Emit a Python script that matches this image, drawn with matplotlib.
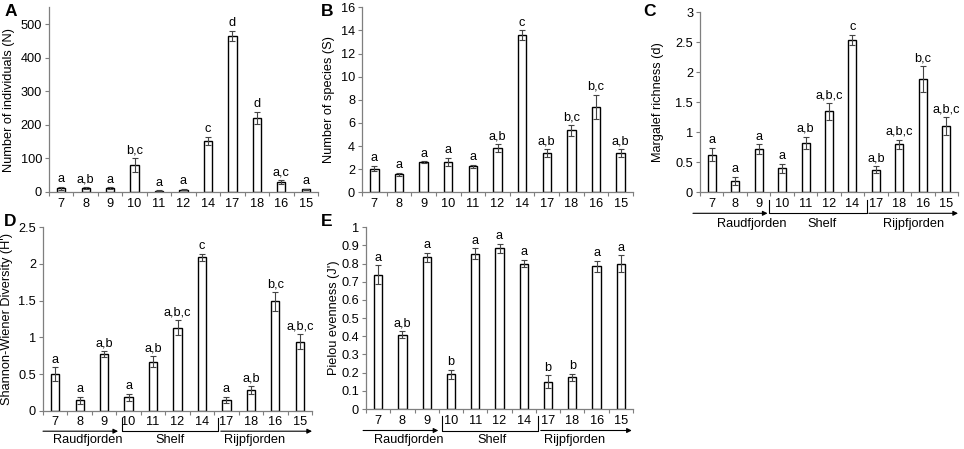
import matplotlib
matplotlib.use("Agg")
import matplotlib.pyplot as plt
from matplotlib.lines import Line2D

plt.rcParams['font.family'] = ['Liberation Sans', 'DejaVu Sans']

stations = ["7", "8", "9", "10", "11", "12", "14", "17", "18", "16", "15"]

n_ind = [11, 12, 12, 80, 4, 7, 152, 465, 220, 29, 8]
n_ind_err = [4, 2, 2, 20, 1, 2, 13, 16, 18, 6, 2]
n_ind_lab = ["a", "a,b", "a", "b,c", "a", "a", "c", "d", "d", "a,c", "a"]

n_sp = [2.05, 1.55, 2.6, 2.65, 2.25, 3.8, 13.6, 3.4, 5.35, 7.4, 3.4]
n_sp_err = [0.25, 0.15, 0.08, 0.35, 0.12, 0.35, 0.4, 0.35, 0.45, 1.05, 0.35]
n_sp_lab = ["a", "a", "a", "a", "a", "a,b", "c", "a,b", "b,c", "b,c", "a,b"]

marg = [0.63, 0.19, 0.72, 0.40, 0.83, 1.35, 2.54, 0.38, 0.80, 1.89, 1.10]
marg_err = [0.11, 0.07, 0.08, 0.08, 0.10, 0.14, 0.08, 0.06, 0.08, 0.21, 0.15]
marg_lab = ["a", "a", "a", "a", "a,b", "a,b,c", "c", "a,b", "a,b,c", "b,c", "a,b,c"]

shan = [0.50, 0.14, 0.77, 0.18, 0.67, 1.13, 2.09, 0.15, 0.28, 1.49, 0.94]
shan_err = [0.09, 0.05, 0.04, 0.05, 0.07, 0.10, 0.05, 0.04, 0.05, 0.13, 0.10]
shan_lab = ["a", "a", "a,b", "a", "a,b", "a,b,c", "c", "a", "a,b", "b,c", "a,b,c"]

piel = [0.74, 0.41, 0.835, 0.19, 0.855, 0.885, 0.80, 0.15, 0.175, 0.785, 0.80]
piel_err = [0.05, 0.02, 0.025, 0.025, 0.03, 0.025, 0.02, 0.035, 0.02, 0.03, 0.045]
piel_lab = ["a", "a,b", "a", "b", "a", "a", "a", "b", "b", "a", "a"]

groups = ["Raudfjorden", "Shelf", "Rijpfjorden"]

W, H = 964, 449
fig = plt.figure(figsize=(W / 100, H / 100), dpi=100)

FS = 9.2


def make_ax(l, t, r, b):
    return fig.add_axes([l / W, 1 - b / H, (r - l) / W, (b - t) / H])


AX_GRAY = "#7f7f7f"


def panel(box, vals, errs, labs, ylim, yticks, yticklabels, ylabel, letter,
          letter_xy, ylabel_x, groupinfo=None):
    l, t, r, b = box
    ax = make_ax(l, t, r, b)
    x = list(range(len(stations)))
    ax.bar(x, vals, width=0.34, color="white", edgecolor="black", linewidth=1.0, zorder=2)
    ax.errorbar(x, vals, yerr=errs, fmt="none", ecolor="#444444", elinewidth=0.8,
                capsize=2.2, capthick=0.8, zorder=3)
    for xi, v, e, s in zip(x, vals, errs, labs):
        ax.annotate(s, (xi, v + e), xytext=(0, 1.2), textcoords="offset points",
                    ha="center", va="bottom", fontsize=FS)
    ax.set_xlim(-0.5, len(stations) - 0.5)
    ax.set_ylim(*ylim)
    ax.set_yticks(yticks)
    ax.set_yticklabels(yticklabels)
    ax.set_xticks(x)
    ax.set_xticklabels(stations)
    ax.set_xticks([i - 0.5 for i in range(len(stations) + 1)], minor=True)
    ax.tick_params(axis="x", which="major", length=0, pad=4.0, labelsize=FS)
    ax.tick_params(axis="x", which="minor", length=3, width=0.8, color=AX_GRAY, direction="out")
    ax.tick_params(axis="y", length=3, width=0.8, color=AX_GRAY, labelsize=FS, pad=2)
    for sp in ["top", "right"]:
        ax.spines[sp].set_visible(False)
    for sp in ["left", "bottom"]:
        ax.spines[sp].set_color(AX_GRAY)
        ax.spines[sp].set_linewidth(0.9)
    ax.set_ylabel(ylabel, fontsize=FS)
    ax.yaxis.set_label_coords((ylabel_x - l) / (r - l), 0.5)
    fig.text(letter_xy[0] / W, 1 - letter_xy[1] / H, letter, fontsize=12.5,
             fontweight="bold", ha="left", va="center")
    if groupinfo is not None:
        hpx = b - t
        tr = ax.get_xaxis_transform()
        ya = -groupinfo["line"] / hpx
        yu = -groupinfo["up"] / hpx
        yt = -groupinfo["text"] / hpx
        a0, a1 = groupinfo["arrow1"]
        ax.annotate("", xy=(a1, ya), xytext=(a0, ya), xycoords=tr, textcoords=tr,
                    arrowprops=dict(arrowstyle="-|>", color="black", lw=0.8,
                                    mutation_scale=7, shrinkA=0, shrinkB=0),
                    annotation_clip=False)
        b0, b1 = groupinfo["bracket"]
        ax.add_line(Line2D([b0, b0, b1, b1], [yu, ya, ya, yu], transform=tr,
                           color="black", lw=0.8, clip_on=False))
        c0, c1 = groupinfo["arrow2"]
        ax.annotate("", xy=(c1, ya), xytext=(c0, ya), xycoords=tr, textcoords=tr,
                    arrowprops=dict(arrowstyle="-|>", color="black", lw=0.8,
                                    mutation_scale=7, shrinkA=0, shrinkB=0),
                    annotation_clip=False)
        for gx, g in zip(groupinfo["tx"], groups):
            ax.text(gx, yt, g, transform=tr, ha="center", va="center", fontsize=FS)
    return ax


def fmt(v):
    return "%g" % v


panel((49, 7.5, 318, 192), n_ind, n_ind_err, n_ind_lab, (0, 550),
      [0, 100, 200, 300, 400, 500], ["0", "100", "200", "300", "400", "500"],
      "Number of individuals (N)", "A", (5, 12), 15)

panel((362, 7.3, 633, 192.3), n_sp, n_sp_err, n_sp_lab, (0, 16),
      list(range(0, 17, 2)), [str(v) for v in range(0, 17, 2)],
      "Number of species (S)", "B", (321, 12), 335)

yt_c = [0, 0.5, 1, 1.5, 2, 2.5, 3]
panel((700, 12.3, 958, 192.3), marg, marg_err, marg_lab, (0, 3),
      yt_c, [fmt(v) for v in yt_c], "Margalef richness (d)", "C", (643, 12), 664,
      dict(line=21, up=8, text=32, arrow1=(-0.8, 2.38), bracket=(2.45, 6.62),
           arrow2=(6.7, 10.5), tx=(1.7, 4.7, 8.6)))

yt_d = [0, 0.5, 1, 1.5, 2, 2.5]
panel((43, 227.3, 312, 410.7), shan, shan_err, shan_lab, (0, 2.5),
      yt_d, [fmt(v) for v in yt_d], "Shannon-Wiener Diversity (H')", "D", (4, 221), 13,
      dict(line=20.5, up=7, text=29.5, arrow1=(-0.5, 2.57), bracket=(2.72, 6.66),
           arrow2=(6.77, 10.5), tx=(1.35, 4.7, 8.15)))

yt_e = [i / 10 for i in range(11)]
panel((366, 227.3, 633, 409), piel, piel_err, piel_lab, (0, 1),
      yt_e, [fmt(v) for v in yt_e], "Pielou evenness (J')", "E", (321, 221), 340,
      dict(line=21.5, up=7, text=31, arrow1=(-0.62, 2.48), bracket=(2.62, 6.6),
           arrow2=(6.7, 10.45), tx=(1.25, 4.7, 8.1)))

fig.savefig("out.png", dpi=100)
